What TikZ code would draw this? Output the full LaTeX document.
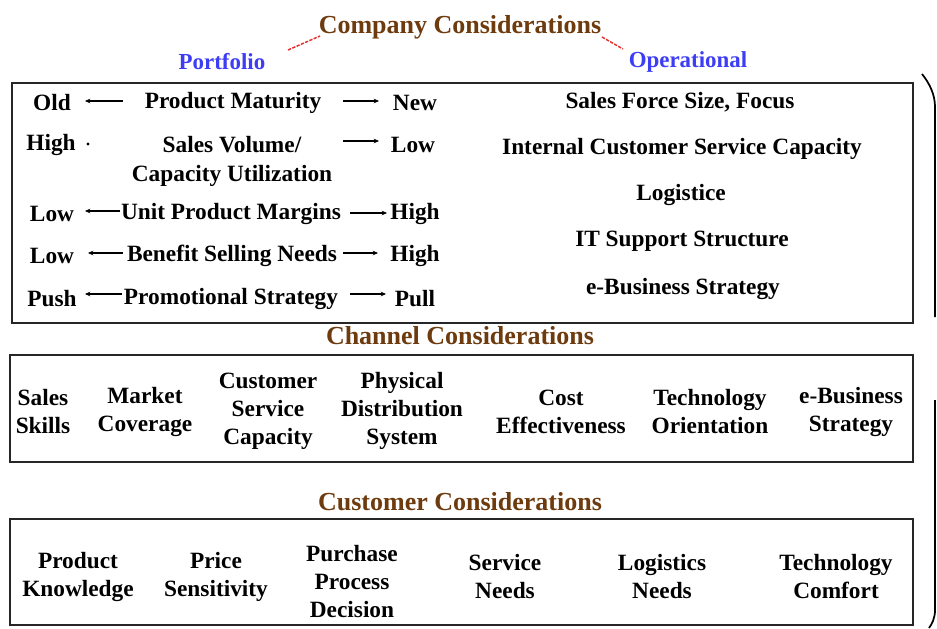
\documentclass[tikz,border=0pt]{standalone}
\usepackage{fontspec}
\setmainfont{Liberation Serif}
\usetikzlibrary{arrows.meta}
\definecolor{brn}{HTML}{6E3B0E}
\definecolor{blu}{HTML}{3D3DF5}
\definecolor{rd}{HTML}{E53030}
\tikzset{
  txt/.style={inner sep=0pt, align=center, font=\bfseries\fontsize{17.5}{21}\selectfont},
  head/.style={inner sep=0pt, text=brn, font=\bfseries\fontsize{19.5}{22}\selectfont},
  sub/.style={inner sep=0pt, text=blu, font=\bfseries\fontsize{17.2}{20}\selectfont},
  frame/.style={draw=black!85, line width=1.4pt},
  arr/.style={-{Stealth[length=4pt,width=3.5pt]}, line width=0.9pt},
  lead/.style={draw=rd, dashed, dash pattern=on 2.5pt off 1pt, line width=1.1pt},
  brace/.style={draw=black, line width=1.3pt}
}
\begin{document}
\begin{tikzpicture}[x=0.75pt,y=-0.75pt]
\useasboundingbox (0,0) rectangle (937,628);
% headings
\node[head] (comp) at (460,27) {Company Considerations};
\node[sub] (port) at (222,62) {Portfolio};
\node[sub] (oper) at (688,62) {Operational};
\draw[lead] (288,50) coordinate (l1a) -- (320,36) coordinate (l1b);
\draw[lead] (602,37) coordinate (l2a) -- (623,49) coordinate (l2b);
% boxes
\draw[frame] (12,83) rectangle (913,323);
\node[head] (chan) at (460,336) {Channel Considerations};
\draw[frame] (10,355) rectangle (913,462);
\node[head] (cust) at (460,502) {Customer Considerations};
\draw[frame] (10,519) rectangle (913,625);
% portfolio rows
\node[txt] (old) at (52,103) {Old};
\node[txt] (pm) at (233,103) {Product Maturity};
\node[txt] (new) at (415,103) {New};
\draw[arr] (123,101) coordinate (r1a) -- (85,101) coordinate (r1b);
\draw[arr] (343,101) coordinate (r1c) -- (379,101) coordinate (r1d);

\node[txt] (high1) at (51,145) {High};
\fill (88,144) coordinate (dot1) circle (1.6);
\node[txt] (sv) at (232,145) {Sales Volume/};
\node[txt] (cu) at (232,176) {Capacity Utilization};
\node[txt] (low1) at (413,145) {Low};
\draw[arr] (343,141) coordinate (r2c) -- (379,141) coordinate (r2d);

\node[txt] (low2) at (52,214) {Low};
\node[txt] (upm) at (231,214) {Unit Product Margins};
\node[txt] (high2) at (415,214) {High};
\draw[arr] (120,211) coordinate (r3a) -- (85,211) coordinate (r3b);
\draw[arr] (350,213) coordinate (r3c) -- (387,213) coordinate (r3d);

\node[txt] (low3) at (52,256) {Low};
\node[txt] (bsn) at (232,256) {Benefit Selling Needs};
\node[txt] (high3) at (415,256) {High};
\draw[arr] (123,253) coordinate (r4a) -- (88,253) coordinate (r4b);
\draw[arr] (343,253) coordinate (r4c) -- (378,253) coordinate (r4d);

\node[txt] (push) at (52,299) {Push};
\node[txt] (ps) at (231,299) {Promotional Strategy};
\node[txt] (pull) at (415,299) {Pull};
\draw[arr] (122,294) coordinate (r5a) -- (85,294) coordinate (r5b);
\draw[arr] (350,294) coordinate (r5c) -- (386,294) coordinate (r5d);
% operational rows
\node[txt] (sfs) at (680,102) {Sales Force Size, Focus};
\node[txt] (icsc) at (682,149) {Internal Customer Service Capacity};
\node[txt] (logi) at (681,195) {Logistice};
\node[txt] (itss) at (682,241) {IT Support Structure};
\node[txt] (ebs) at (683,289) {e-Business Strategy};
% channel items
\node[txt] (c1) at (43,412) {Sales\\Skills};
\node[txt] (c2) at (145,412) {Market\\Coverage};
\node[txt] (c3) at (268,411) {Customer\\Service\\Capacity};
\node[txt] (c4) at (402,411) {Physical\\Distribution\\System};
\node[txt] (c5) at (561,412) {Cost\\Effectiveness};
\node[txt] (c6) at (710,412) {Technology\\Orientation};
\node[txt] (c7) at (851,412) {e-Business\\Strategy};
% customer items
\node[txt] (k1) at (78,577) {Product\\Knowledge};
\node[txt] (k2) at (216,577) {Price\\Sensitivity};
\node[txt] (k3) at (352,582) {Purchase\\Process\\Decision};
\node[txt] (k4) at (505,577) {Service\\Needs};
\node[txt] (k5) at (662,577) {Logistics\\Needs};
\node[txt] (k6) at (836,577) {Technology\\Comfort};
% brace (cropped)
\draw[brace] (922,74) coordinate (b1) .. controls (930,84) and (935,95) .. (935,107) coordinate (b2) -- (935,317) coordinate (b3);
\draw[brace] (935,400) coordinate (b4) -- (935,610) coordinate (b5) .. controls (935,618) and (932,624) .. (929,628) coordinate (b6);
\end{tikzpicture}
\end{document}
